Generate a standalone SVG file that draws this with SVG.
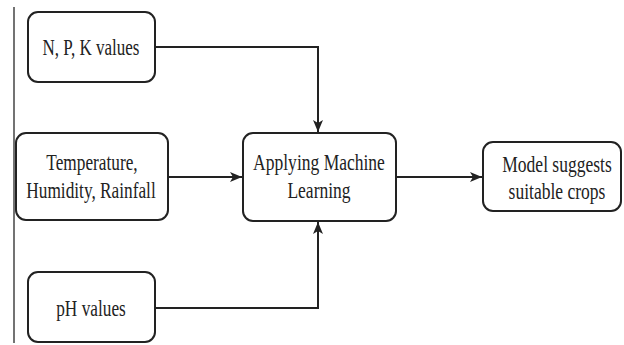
<svg xmlns="http://www.w3.org/2000/svg" width="624" height="345" viewBox="0 0 624 345">
<defs>
<style>
.box{fill:#fff;stroke:#222;stroke-width:2}
.t{font-family:"Liberation Serif","Times New Roman",serif;font-size:24px;fill:#222;text-anchor:middle}
.c{fill:none;stroke:#222;stroke-width:2}
</style>
<marker id="ah" viewBox="0 0 12 10" refX="12" refY="5" markerWidth="12" markerHeight="10" markerUnits="userSpaceOnUse" orient="auto">
<path d="M0,0 L12,5 L0,10 L3,5 Z" fill="#222"/>
</marker>
</defs>
<rect width="624" height="345" fill="#fff"/>
<line x1="14" y1="7" x2="14" y2="343" stroke="#444" stroke-width="1.5"/>
<g id="connectors">
<path class="c" d="M155,47 H318 V132" marker-end="url(#ah)"/>
<path class="c" d="M168,177 H242" marker-end="url(#ah)"/>
<path class="c" d="M155,308 H318 V222" marker-end="url(#ah)"/>
<path class="c" d="M396,177 H482" marker-end="url(#ah)"/>
</g>
<g id="npk">
<rect class="box" x="28" y="12" width="127" height="70" rx="10"/>
<text class="t" transform="translate(91,55) scale(0.71,1)">N, P, K values</text>
</g>
<g id="temp">
<rect class="box" x="16" y="133" width="152" height="87" rx="10"/>
<text class="t" transform="translate(92,170) scale(0.72,1)">Temperature,</text>
<text class="t" transform="translate(91,198) scale(0.72,1)">Humidity, Rainfall</text>
</g>
<g id="ph">
<rect class="box" x="28" y="272" width="127" height="70" rx="10"/>
<text class="t" transform="translate(91,316) scale(0.72,1)">pH values</text>
</g>
<g id="ml">
<rect class="box" x="243" y="133" width="153" height="88" rx="10"/>
<text class="t" transform="translate(319,170) scale(0.73,1)">Applying Machine</text>
<text class="t" transform="translate(319,198) scale(0.73,1)">Learning</text>
</g>
<g id="model">
<rect class="box" x="483" y="142" width="138" height="69" rx="10"/>
<text class="t" transform="translate(557,172) scale(0.73,1)">Model suggests</text>
<text class="t" transform="translate(557,199) scale(0.73,1)">suitable crops</text>
</g>
</svg>
